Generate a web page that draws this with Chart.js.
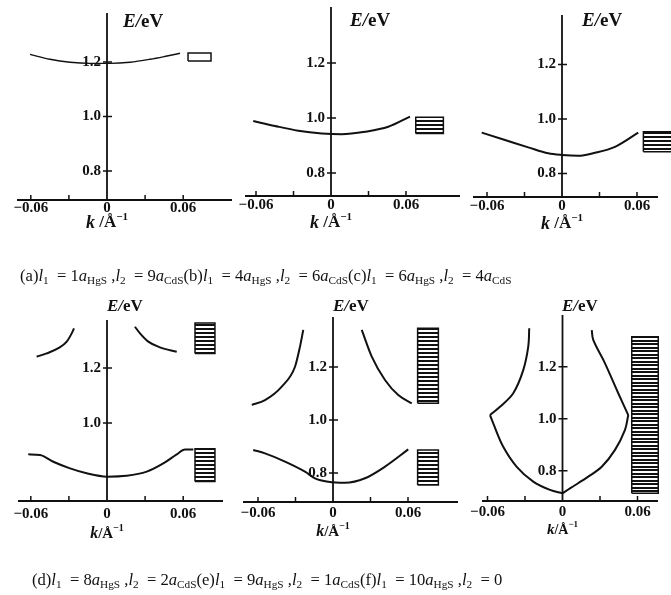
<!DOCTYPE html>
<html>
<head>
<meta charset="utf-8">
<script src="https://cdn.jsdelivr.net/npm/chart.js"></script>
<style>
  body { margin: 0; background: #fff; }
  #page { position: relative; width: 671px; height: 595px; overflow: hidden; background: #fff; }
  #page canvas { position: absolute; left: 0; top: 0; }
  .cap { position: absolute; white-space: pre; font-family: "Liberation Serif", serif; font-size: 16.6px; line-height: 20px; color: #111; }
  .cap sub { font-size: 68%; vertical-align: -0.3em; line-height: 0; }
</style>
</head>
<body>
<div id="page">
  <canvas id="pa" width="671" height="595"></canvas>
  <canvas id="pb" width="671" height="595"></canvas>
  <canvas id="pc" width="671" height="595"></canvas>
  <canvas id="pd" width="671" height="595"></canvas>
  <canvas id="pe" width="671" height="595"></canvas>
  <canvas id="pf" width="671" height="595"></canvas>
  <div class="cap" style="left:20px;top:266px">(a)<i>l</i><sub>1</sub>  = 1<i>a</i><sub>HgS</sub> ,<i>l</i><sub>2</sub>  = 9<i>a</i><sub>CdS</sub>(b)<i>l</i><sub>1</sub>  = 4<i>a</i><sub>HgS</sub> ,<i>l</i><sub>2</sub>  = 6<i>a</i><sub>CdS</sub>(c)<i>l</i><sub>1</sub>  = 6<i>a</i><sub>HgS</sub> ,<i>l</i><sub>2</sub>  = 4<i>a</i><sub>CdS</sub></div>
  <div class="cap" style="left:32px;top:570px">(d)<i>l</i><sub>1</sub>  = 8<i>a</i><sub>HgS</sub> ,<i>l</i><sub>2</sub>  = 2<i>a</i><sub>CdS</sub>(e)<i>l</i><sub>1</sub>  = 9<i>a</i><sub>HgS</sub> ,<i>l</i><sub>2</sub>  = 1<i>a</i><sub>CdS</sub>(f)<i>l</i><sub>1</sub>  = 10<i>a</i><sub>HgS</sub> ,<i>l</i><sub>2</sub>  = 0</div>
</div>
<script>
// ---- tick values / labels ----
const kTicks = [-0.06, -0.03, 0.03, 0.06];
const kLabelVals = [-0.06, 0, 0.06];
const kLabelText = ['\u22120.06', '0', '0.06'];
const eTicks = [0.8, 1.0, 1.2];
const eTicksD = [1.0, 1.2];
const eTickText = v => v.toFixed(1);

// ---- (a) l1 = 1 aHgS ----
const kA = [-0.0606, -0.0449, -0.0291, -0.0134, 0.0024, 0.0181, 0.0339, 0.0472, 0.0575];
const eA = [1.228, 1.210, 1.199, 1.195, 1.195, 1.199, 1.210, 1.222, 1.232];
const boxA = [0.0638, 0.0819, 1.204, 1.233];   // k1, k2, E1, E2

// ---- (b) l1 = 4 aHgS ----
const kB = [-0.0622, -0.0448, -0.0262, -0.0074, 0.0086, 0.0272, 0.0458, 0.0632];
const eB = [0.989, 0.971, 0.954, 0.944, 0.941, 0.950, 0.968, 1.005];
const boxB = [0.0678, 0.0899, 0.944, 1.003];

// ---- (c) l1 = 6 aHgS ----
const kC = [-0.0642, -0.0456, -0.0270, -0.0110, 0.0, 0.0130, 0.0264, 0.0424, 0.0610];
const eC = [0.950, 0.923, 0.896, 0.874, 0.868, 0.865, 0.876, 0.898, 0.950];
const boxC = [0.0651, 0.0900, 0.880, 0.953];

// ---- (d) l1 = 8 aHgS ----
const kD = [-0.0620, -0.0528, -0.0423, -0.0291, -0.0160, 0.0, 0.0155, 0.0313, 0.0443, 0.0549, 0.0614, 0.0680];
const eD = [0.886, 0.884, 0.859, 0.835, 0.817, 0.805, 0.808, 0.823, 0.853, 0.886, 0.904, 0.904];
const kDul = [-0.0554, -0.0475, -0.0383, -0.0317, -0.0278, -0.0260];
const eDul = [1.241, 1.253, 1.272, 1.296, 1.326, 1.344];
const kDur = [0.0220, 0.0260, 0.0325, 0.0417, 0.0549];
const eDur = [1.350, 1.326, 1.296, 1.275, 1.259];
const boxDu = [0.0693, 0.0850, 1.253, 1.364];
const boxDl = [0.0693, 0.0850, 0.787, 0.906];

// ---- (e) l1 = 9 aHgS ----
const kE = [-0.0638, -0.0544, -0.0384, -0.0224, -0.0144, -0.0038, 0.0096, 0.0256, 0.0416, 0.0602];
const eE = [0.887, 0.874, 0.843, 0.805, 0.780, 0.767, 0.763, 0.780, 0.824, 0.889];
const kEul = [-0.0650, -0.0544, -0.0410, -0.0304, -0.0264, -0.0238];
const eEul = [1.057, 1.075, 1.126, 1.201, 1.277, 1.340];
const kEur = [0.0230, 0.0310, 0.0416, 0.0522, 0.0630];
const eEur = [1.340, 1.239, 1.151, 1.094, 1.063];
const boxEu = [0.0677, 0.0843, 1.063, 1.346];
const boxEl = [0.0677, 0.0843, 0.755, 0.887];

// ---- (f) l1 = 10 aHgS ----
const kFul = [-0.0266, -0.0274, -0.0314, -0.0394, -0.0500, -0.0580];
const eFul = [1.348, 1.277, 1.187, 1.098, 1.046, 1.014];
const kFll = [-0.0580, -0.0554, -0.0474, -0.0366, -0.0234, -0.0100, 0.0];
const eFll = [1.014, 0.982, 0.892, 0.815, 0.758, 0.726, 0.713];
const kFlr = [0.0, 0.0060, 0.0206, 0.0314, 0.0420, 0.0500, 0.0526];
const eFlr = [0.713, 0.732, 0.777, 0.815, 0.880, 0.957, 1.014];
const kFur = [0.0526, 0.0446, 0.0340, 0.0246, 0.0234];
const eFur = [1.014, 1.098, 1.213, 1.303, 1.341];
const boxF = [0.0554, 0.0766, 0.713, 1.315];

const W = 671, H = 595;
const ink = '#111';

// where each small plot sits on the page: pixel of k=0, px per 1/A, pixel of E=1.0 eV, px per eV,
// the drawn axis frame, and label placement / sizes
const frames = {
  a: { zeroX: 107,   kpx: 1270, y1: 116.5, epx: 272.5, l: 17,  r: 232, t: 13,  b: 200, tickOff: 8.5,  kLabY: 223, kSize: 18, kGap: ' ', eLab: [123, 22],  eSize: 19 },
  b: { zeroX: 331,   kpx: 1250, y1: 118,   epx: 275,   l: 245, r: 460, t: 7,   b: 196, tickOff: 9.5,  kLabY: 223, kSize: 18, kGap: ' ', eLab: [350, 21],  eSize: 19 },
  c: { zeroX: 562,   kpx: 1250, y1: 119,   epx: 272.5, l: 473, r: 658, t: 15,  b: 197, tickOff: 9.5,  kLabY: 224, kSize: 18, kGap: ' ', eLab: [582, 21],  eSize: 19 },
  d: { zeroX: 107,   kpx: 1270, y1: 423,   epx: 275,   l: 18,  r: 223, t: 320, b: 501, tickOff: 13,   kLabY: 534, kSize: 16, kGap: '',  eLab: [107, 307], eSize: 17 },
  e: { zeroX: 333,   kpx: 1250, y1: 420,   epx: 265,   l: 243, r: 458, t: 317, b: 502, tickOff: 11.5, kLabY: 532, kSize: 16, kGap: '',  eLab: [333, 307], eSize: 17 },
  f: { zeroX: 562.5, kpx: 1250, y1: 418.7, epx: 260,   l: 482, r: 658, t: 315, b: 501, tickOff: 11,   kLabY: 530, kSize: 15, kGap: '',  eLab: [562, 307], eSize: 17 }
};

// hatch for the stripe boxes
function stripes(rows, h) {
  const c = document.createElement('canvas');
  c.width = 8; c.height = h;
  const g = c.getContext('2d');
  g.fillStyle = ink;
  rows.forEach(r => g.fillRect(0, r, 8, 2));
  return g.createPattern(c, 'repeat');
}
const hatch = stripes([0], 4);
const hatchDense = stripes([0, 4], 7);

const pts = (ks, es) => ks.map((k, i) => ({ x: k, y: es[i] }));

function curve(ks, es, opts) {
  return Object.assign({
    data: pts(ks, es), showLine: true, borderColor: ink, borderWidth: 2,
    pointRadius: 0, fill: false, tension: 0.4, cubicInterpolationMode: 'monotone'
  }, opts || {});
}

function box(b, bg) {
  const [k1, k2, e1, e2] = b;
  return {
    data: pts([k1, k2, k2, k1, k1], [e1, e1, e2, e2, e1]),
    showLine: true, borderColor: ink, borderWidth: 1.5, pointRadius: 0,
    tension: 0, fill: 'shape', backgroundColor: bg
  };
}

function axesPlugin(f, yt) {
  return {
    id: 'axes',
    beforeDatasetsDraw(chart) {
      const { ctx, scales: { x, y } } = chart;
      const x0 = x.getPixelForValue(0);
      const serif = '"Liberation Serif"';
      ctx.save();
      ctx.strokeStyle = ink; ctx.fillStyle = ink;
      ctx.lineWidth = 1.8;
      ctx.beginPath();
      ctx.moveTo(f.l, f.b); ctx.lineTo(f.r, f.b);
      ctx.moveTo(x0, f.b); ctx.lineTo(x0, f.t);
      ctx.stroke();
      ctx.lineWidth = 1.5;
      ctx.beginPath();
      kTicks.forEach(v => { const p = x.getPixelForValue(v); ctx.moveTo(p, f.b); ctx.lineTo(p, f.b - 5); });
      yt.forEach(v => { const p = y.getPixelForValue(v); ctx.moveTo(x0 - 4, p); ctx.lineTo(x0 + 5, p); });
      ctx.stroke();

      ctx.font = 'bold 15px ' + serif;
      ctx.textBaseline = 'middle';
      ctx.textAlign = 'right';
      yt.forEach(v => ctx.fillText(eTickText(v), x0 - 6, y.getPixelForValue(v)));
      ctx.textAlign = 'center';
      kLabelVals.forEach((v, i) => ctx.fillText(kLabelText[i], x.getPixelForValue(v), f.b + f.tickOff));

      // k /A^-1
      ctx.textAlign = 'left';
      const fk = 'bold italic ' + f.kSize + 'px ' + serif;
      const fa = 'bold ' + (f.kSize - 1) + 'px ' + serif;
      const fs = 'bold ' + Math.round(f.kSize * 0.6) + 'px ' + serif;
      const p1 = 'k', p2 = f.kGap + '/\u00c5', p3 = '\u22121';
      ctx.font = fk; const w1 = ctx.measureText(p1).width;
      ctx.font = fa; const w2 = ctx.measureText(p2).width;
      ctx.font = fs; const w3 = ctx.measureText(p3).width;
      const sx = x0 - (w1 + w2 + w3) / 2;
      ctx.font = fk; ctx.fillText(p1, sx, f.kLabY);
      ctx.font = fa; ctx.fillText(p2, sx + w1, f.kLabY);
      ctx.font = fs; ctx.fillText(p3, sx + w1 + w2, f.kLabY - f.kSize * 0.35);

      // E/eV
      ctx.font = 'bold italic ' + f.eSize + 'px ' + serif;
      ctx.fillText('E/', f.eLab[0], f.eLab[1]);
      const we = ctx.measureText('E/').width;
      ctx.font = 'bold ' + f.eSize + 'px ' + serif;
      ctx.fillText('eV', f.eLab[0] + we, f.eLab[1]);
      ctx.restore();
    }
  };
}

function panel(id, f, yt, datasets) {
  new Chart(document.getElementById(id), {
    type: 'scatter',
    data: { datasets: datasets },
    options: {
      responsive: false,
      animation: false,
      events: [],
      layout: { padding: 0 },
      plugins: { legend: { display: false }, tooltip: { enabled: false } },
      scales: {
        x: { type: 'linear', display: false, min: -f.zeroX / f.kpx, max: (W - f.zeroX) / f.kpx },
        y: { type: 'linear', display: false, min: 1 - (H - f.y1) / f.epx, max: 1 + f.y1 / f.epx }
      }
    },
    plugins: [axesPlugin(f, yt)]
  });
}

panel('pa', frames.a, eTicks, [curve(kA, eA, { borderWidth: 1.4 }), box(boxA, '#fff')]);
panel('pb', frames.b, eTicks, [curve(kB, eB), box(boxB, hatch)]);
panel('pc', frames.c, eTicks, [curve(kC, eC), box(boxC, hatch)]);
panel('pd', frames.d, eTicksD, [curve(kD, eD), curve(kDul, eDul), curve(kDur, eDur), box(boxDu, hatch), box(boxDl, hatch)]);
panel('pe', frames.e, eTicks, [curve(kE, eE), curve(kEul, eEul), curve(kEur, eEur), box(boxEu, hatch), box(boxEl, hatch)]);
const loose = { cubicInterpolationMode: 'default', tension: 0.35 };
panel('pf', frames.f, eTicks, [curve(kFul, eFul, loose), curve(kFll, eFll, loose), curve(kFlr, eFlr, loose), curve(kFur, eFur, loose), box(boxF, hatchDense)]);
</script>
</body>
</html>
